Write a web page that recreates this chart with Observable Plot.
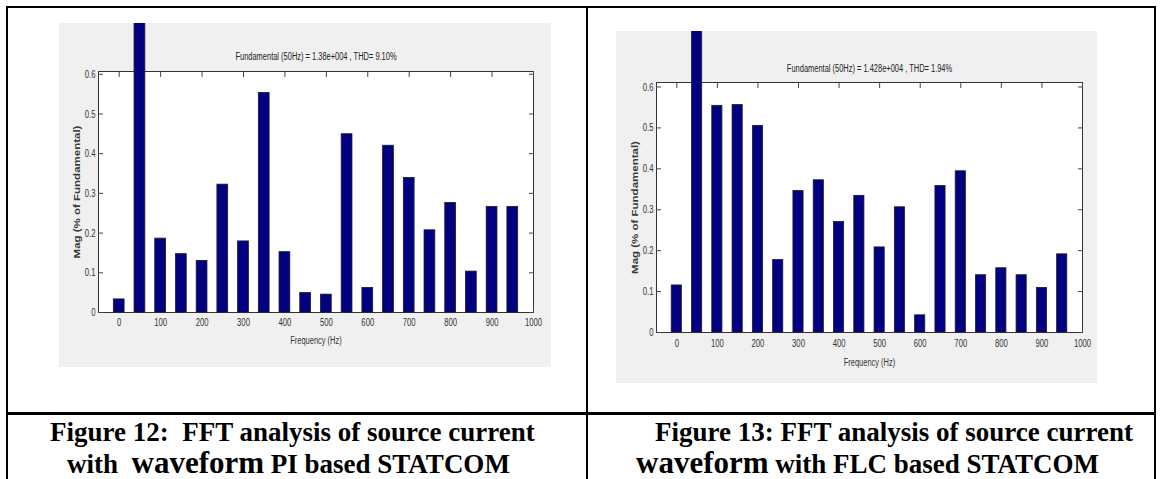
<!DOCTYPE html>
<html><head><meta charset="utf-8">
<script src="https://cdn.jsdelivr.net/npm/d3@7"></script>
<script src="https://cdn.jsdelivr.net/npm/@observablehq/plot@0.6"></script>
<style>
body{margin:0;background:#fff;}
#page{position:relative;width:1161px;height:479px;overflow:hidden;background:#fff;}
.ln{position:absolute;background:#000;}
.cap{position:absolute;font-family:"Liberation Serif","Times New Roman",serif;font-weight:bold;font-size:27px;line-height:30px;color:#000;white-space:pre;}
.big{font-size:31px;}
.chart{position:absolute;}
</style></head><body>
<div id="page">
  <div class="ln" style="left:6px;top:6px;width:1150px;height:2px"></div>
  <div class="ln" style="left:6px;top:6px;width:2px;height:473px"></div>
  <div class="ln" style="left:586px;top:6px;width:2px;height:473px"></div>
  <div class="ln" style="left:1154px;top:6px;width:2px;height:473px"></div>
  <div class="ln" style="left:6px;top:412px;width:1150px;height:2.5px"></div>
  <div id="c1" class="chart" style="left:59px;top:23px"></div>
  <div id="c2" class="chart" style="left:616px;top:31px"></div>
  <div id="cap1a" class="cap" style="left:50px;top:417px"></div>
  <div id="cap1b" class="cap" style="left:67px;top:448px"></div>
  <div id="cap2a" class="cap" style="left:655px;top:417px"></div>
  <div id="cap2b" class="cap" style="left:636px;top:448px"></div>
</div>
<script>
const freqs = [0,50,100,150,200,250,300,350,400,450,500,550,600,650,700,750,800,850,900,950];
const magPI = [0.033,100,0.186,0.147,0.130,0.322,0.179,0.553,0.152,0.049,0.045,0.449,0.062,0.420,0.339,0.207,0.276,0.103,0.266,0.266];
const magFLC = [0.115,100,0.554,0.556,0.505,0.177,0.346,0.372,0.270,0.334,0.208,0.306,0.042,0.358,0.394,0.140,0.157,0.140,0.109,0.191];
const xTicks = [0,100,200,300,400,500,600,700,800,900,1000];
const yTicks = [0,0.1,0.2,0.3,0.4,0.5,0.6];
const titlePI = "Fundamental (50Hz) = 1.38e+004 , THD= 9.10%";
const titleFLC = "Fundamental (50Hz) = 1.428e+004 , THD= 1.94%";
const xLabel = "Frequency (Hz)";
const yLabel = "Mag (% of Fundamental)";
const captionsPI = ["Figure 12:  FFT analysis of source current", "with  ", "waveform", " PI based STATCOM"];
const captionsFLC = ["Figure 13: FFT analysis of source current", "waveform", " with FLC based STATCOM"];

function condenseText(svg, match, sx, sy) {
  svg.querySelectorAll("text").forEach(t => {
    if (!match(t.textContent)) return;
    const tr = t.getAttribute("transform");
    if (tr) t.setAttribute("transform", tr + ` scale(${sx},${sy})`);
    else {
      const x = +t.getAttribute("x") || 0, y = +t.getAttribute("y") || 0;
      t.setAttribute("transform", `translate(${x},${y}) scale(${sx},${sy}) translate(${-x},${-y})`);
    }
  });
}

function chart({mags, title, width, height, mL, mR, mT, mB, yMax, half, xPad, titleDy, xLabDy}) {
  const data = freqs.map((f, i) => ({f, m: mags[i]}));
  const svg = Plot.plot({
    width, height, marginLeft: mL, marginRight: mR, marginTop: mT, marginBottom: mB,
    style: {background: "#f0f0f0", overflow: "hidden", fontFamily: "'Liberation Sans', Arial, sans-serif", fontSize: "11px", color: "#333"},
    x: {domain: [-50, 1000], label: null},
    y: {domain: [0, yMax], label: null},
    marks: [
      Plot.frame({fill: "white", stroke: "#333", strokeWidth: 1}),
      Plot.axisX({anchor: "top", ticks: xTicks, tickSize: 5, dy: 5, fill: "none", stroke: "#444", label: null}),
      Plot.axisX({anchor: "bottom", ticks: xTicks, tickSize: 5, dy: -5, fill: "none", stroke: "#444", label: null}),
      Plot.axisY({anchor: "left", ticks: yTicks, tickSize: 5, dx: 5, fill: "none", stroke: "#444", label: null}),
      Plot.axisY({anchor: "right", ticks: yTicks, tickSize: 5, dx: -5, fill: "none", stroke: "#444", label: null}),
      Plot.rectY(data, {x1: d => d.f - half, x2: d => d.f + half, y1: 0, y2: "m", fill: "#000080", stroke: "#1a1a2a", strokeWidth: 0.8}),
      Plot.axisX({anchor: "bottom", ticks: xTicks, tickSize: 0, tickPadding: xPad, tickFormat: d => String(d), label: null}),
      Plot.axisY({anchor: "left", ticks: yTicks, tickSize: 0, tickPadding: 3, tickFormat: d => String(d), label: null}),
      Plot.text([title], {frameAnchor: "top", dy: titleDy, text: d => d, textAnchor: "middle", lineAnchor: "middle", fontSize: 11, fill: "#222"}),
      Plot.text([xLabel], {frameAnchor: "bottom", dy: xLabDy, text: d => d, textAnchor: "middle", lineAnchor: "middle", fontSize: 11, fill: "#333"}),
      Plot.text([yLabel], {frameAnchor: "left", dx: -21, rotate: -90, text: d => d, textAnchor: "middle", lineAnchor: "middle", fontSize: 11.5, fontWeight: "bold", fill: "#3a3a3a"})
    ]
  });
  const tickLabels = new Set([...xTicks.map(String), ...yTicks.map(String)]);
  condenseText(svg, s => tickLabels.has(s), 0.7, 1);
  condenseText(svg, s => s === title || s === xLabel, 0.68, 1);
  condenseText(svg, s => s === yLabel, 1, 0.75);
  return svg;
}

document.getElementById("c1").append(chart({mags: magPI, title: titlePI, width: 492, height: 344, mL: 39, mR: 18, mT: 48, mB: 55, yMax: 0.607, half: 13, xPad: 6, titleDy: -15, xLabDy: 28}));
document.getElementById("c2").append(chart({mags: magFLC, title: titleFLC, width: 481, height: 352, mL: 40, mR: 15, mT: 51, mB: 51, yMax: 0.611, half: 12.5, xPad: 6.5, titleDy: -14, xLabDy: 29.5}));

document.getElementById("cap1a").textContent = captionsPI[0];
const c1b = document.getElementById("cap1b");
c1b.append(captionsPI[1]);
const s1 = document.createElement("span"); s1.className = "big"; s1.textContent = captionsPI[2]; c1b.append(s1);
c1b.append(captionsPI[3]);
document.getElementById("cap2a").textContent = captionsFLC[0];
const c2b = document.getElementById("cap2b");
const s2 = document.createElement("span"); s2.className = "big"; s2.textContent = captionsFLC[1]; c2b.append(s2);
c2b.append(captionsFLC[2]);
</script>
</body></html>
